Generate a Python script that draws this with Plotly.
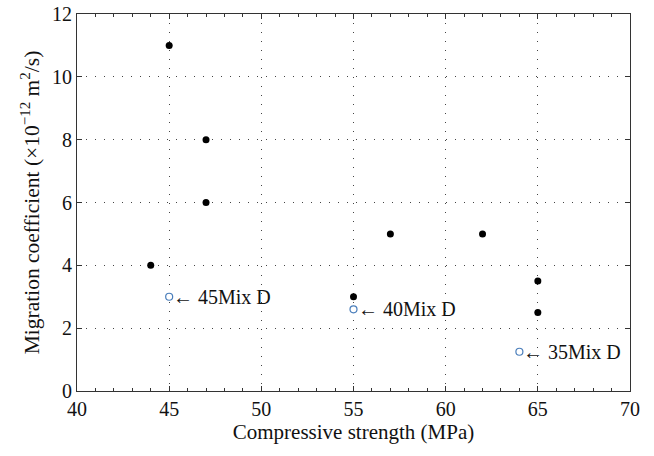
import plotly.graph_objects as go

strength_filled = [45, 47, 47, 44, 55, 57, 62, 65, 65]
coef_filled = [11, 8, 6, 4, 3, 5, 5, 3.5, 2.5]

strength_mixd = [45, 55, 64]
coef_mixd = [3.0, 2.6, 1.25]
labels_mixd = ["45Mix D", "40Mix D", "35Mix D"]

font_family = "Liberation Serif, Times New Roman, serif"
fs = 20

fig = go.Figure()
fig.add_trace(go.Scatter(
    x=strength_filled, y=coef_filled, mode="markers",
    marker=dict(color="black", size=7), showlegend=False))
fig.add_trace(go.Scatter(
    x=strength_mixd, y=coef_mixd, mode="markers",
    marker=dict(color="white", size=7, line=dict(color="#4a7ebb", width=1.2)),
    showlegend=False))

for xv, yv, lab in zip(strength_mixd, coef_mixd, labels_mixd):
    fig.add_annotation(
        x=xv, y=yv, text="\u2190\u00a0" + lab, showarrow=False,
        xanchor="left", yanchor="middle", xshift=2,
        font=dict(family=font_family, size=fs, color="#111"))

axis_common = dict(
    showline=True, linecolor="#333", linewidth=1.2, mirror="ticks",
    ticks="inside", ticklen=5, tickcolor="#333",
    showgrid=True, gridcolor="#444", gridwidth=1, griddash="1px,8px",
    zeroline=False, automargin=False,
    tickfont=dict(family=font_family, size=fs, color="#111"),
)

fig.update_xaxes(
    range=[40, 70], dtick=5,
    minor=dict(ticks="inside", ticklen=3, dtick=1, tickcolor="#333", showgrid=False),
    title=dict(text="Compressive strength (MPa)", font=dict(family=font_family, size=21, color="#111"), standoff=4),
    **axis_common)
fig.update_yaxes(
    range=[0, 12], dtick=2,
    title=dict(text="Migration coefficient (\u00d710<sup>\u221212</sup>\u00a0m<sup>2</sup>/s)",
               font=dict(family=font_family, size=21.5, color="#111"), standoff=6),
    **axis_common)

fig.update_layout(
    width=654, height=456,
    margin=dict(l=77, r=24, t=14, b=65),
    plot_bgcolor="white", paper_bgcolor="white",
    font=dict(family=font_family, color="#111"),
)

fig.write_html("out.html",
               config={"displayModeBar": False},
               post_script="document.body.style.margin='0';document.body.style.overflow='hidden';")
